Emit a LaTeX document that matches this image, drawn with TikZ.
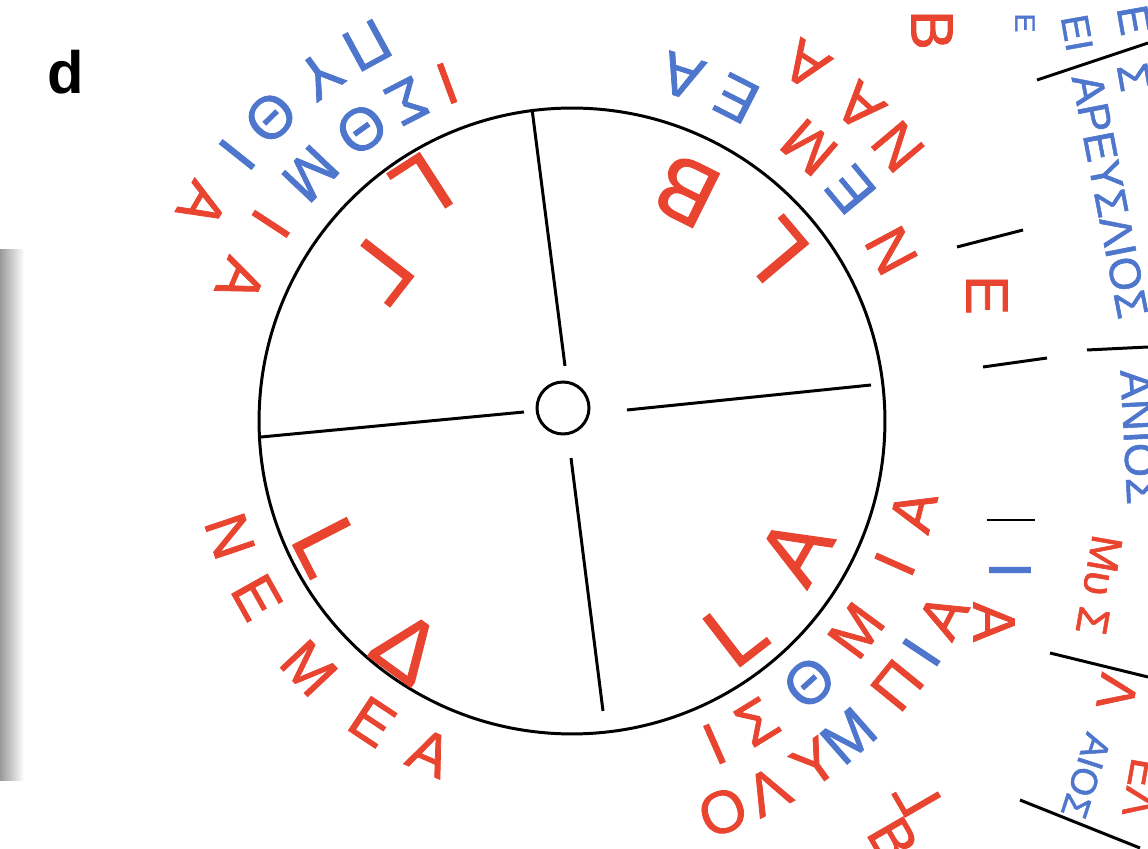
\documentclass[tikz,border=0pt]{standalone}
\usepackage{fontspec}
\setmainfont{Liberation Sans}
\newfontfamily\handfont{Liberation Sans}[FakeBold=1.3]
\usetikzlibrary{calc}
\definecolor{gkred}{RGB}{232,68,48}
\definecolor{gkblue}{RGB}{78,118,205}

\begin{document}
\begin{tikzpicture}[x=0.02cm, y=0.02cm]
  \tikzset{
    gk/.style={inner sep=0pt, font=\handfont\fontsize{34}{34}\selectfont},
    yr/.style={inner sep=0pt, text=gkred, font=\handfont\fontsize{50}{50}\selectfont},
    side/.style={inner sep=0pt, font=\handfont\fontsize{25}{25}\selectfont},
    rule/.style={line width=1.7pt}
  }
  \useasboundingbox (0,0) rectangle (1148,848);
  \clip (0,0) rectangle (1148,848);

  % photo edge
  \shade[left color=gray!80, right color=white] (0,68) rectangle (24,598);

  \node[font=\bfseries\fontsize{34}{34}\selectfont] (label) at (66,776) {d};

  % dial and hub
  \node[draw, circle, rule, minimum size=12.52cm, inner sep=0pt] (dial) at (572,427) {};
  \node[draw, circle, rule, minimum size=1.04cm, inner sep=0pt] (hub) at (563,440) {};

  % spokes
  \coordinate (sp-n1) at (532,739); \coordinate (sp-n2) at (565,482);
  \coordinate (sp-s1) at (571,390); \coordinate (sp-s2) at (603,137);
  \coordinate (sp-w1) at (261,411); \coordinate (sp-w2) at (524,436);
  \coordinate (sp-e1) at (627,438); \coordinate (sp-e2) at (871,463);
  \draw[rule] (sp-n1) -- (sp-n2);
  \draw[rule] (sp-s1) -- (sp-s2);
  \draw[rule] (sp-w1) -- (sp-w2);
  \draw[rule] (sp-e1) -- (sp-e2);

  % year labels inside the dial
  \foreach \ch/\a/\r [count=\i] in {L/40.2/265, Β/63.6/257, L/122.8/278, Γ/142.1/244,
                                    L/207.2/275, Δ/233.9/280, L/307.7/267, Α/330/258}
    \node[yr, rotate=\a+90] (yr-\i) at ($(dial.center)+(\a:\r)$) {\ch};

  % outer ring
  \foreach \ch/\a/\col [count=\i] in {Π/118.6/gkblue, Υ/126.1/gkblue, Θ/134.8/gkblue,
                                      Ι/141.5/gkblue, Α/149.7/gkred}
    \node[gk, text=\col, rotate=\a+90] (pyth-\i) at ($(dial.center)+(\a:428)$) {\ch};
  \foreach \ch/\a [count=\i] in {Ν/40.1, Α/47.5, Α/56.7}
    \node[gk, text=gkred, rotate=\a+90] (naa-\i) at ($(dial.center)+(\a:426)$) {\ch};
  \foreach \ch/\a/\col [count=\i] in {Ο/291.1/gkred, Λ/297.9/gkred, Υ/305.4/gkred,
                                      Μ/311.3/gkblue, Π/320.9/gkred, Ι/326.5/gkblue, Α/332.3/gkred}
    \node[gk, text=\col, rotate=\a+90] (olym-\i) at ($(dial.center)+(\a:419)$) {\ch};

  % inner ring
  \foreach \ch/\a/\col [count=\i] in {Ι/110.3/gkred, Σ/117.3/gkblue, Θ/125.8/gkblue,
                                      Μ/136.6/gkblue, Ι/146.8/gkred, Α/157/gkred}
    \node[gk, text=\col, rotate=\a+90] (isthA-\i) at ($(dial.center)+(\a:360)$) {\ch};
  \foreach \ch/\a/\col [count=\i] in {Ν/28.1/gkred, Ε/39.7/gkblue, Μ/49.1/gkred,
                                      Ε/63/gkblue, Α/72.3/gkblue}
    \node[gk, text=\col, rotate=\a+90] (nemA-\i) at ($(dial.center)+(\a:362)$) {\ch};
  \foreach \ch/\a [count=\i] in {Ν/198.6, Ε/209.2, Μ/223.2, Ε/236.4, Α/246.8}
    \node[gk, text=gkred, rotate=\a+90] (nemB-\i) at ($(dial.center)+(\a:361)$) {\ch};
  \foreach \ch/\a/\col [count=\i] in {Ι/293.8/gkred, Σ/301.6/gkred, Θ/312.2/gkblue,
                                      Μ/323.6/gkred, Ι/336.1/gkred, Α/345.2/gkred}
    \node[gk, text=\col, rotate=\a+90] (isthB-\i) at ($(dial.center)+(\a:353)$) {\ch};

  % next dial, right edge
  \coordinate (cell-a1) at (1037,768); \coordinate (cell-a2) at (1148,805);
  \coordinate (cell-b1) at (1087,498); \coordinate (cell-b2) at (1148,501);
  \coordinate (cell-c1) at (1050,195); \coordinate (cell-c2) at (1148,171);
  \coordinate (cell-d1) at (1020,48);  \coordinate (cell-d2) at (1140,0);
  \coordinate (tick-a1) at (957,601);  \coordinate (tick-a2) at (1023,618);
  \coordinate (tick-b1) at (983,481);  \coordinate (tick-b2) at (1047,490);
  \coordinate (tick-c1) at (987,328);  \coordinate (tick-c2) at (1035,328);
  \foreach \p in {cell-a, cell-b, cell-c, cell-d, tick-a, tick-b, tick-c}
    \draw[rule] (\p1) -- (\p2);

  \node[gk, text=gkred, rotate=-90] (num-b) at (932,818) {Β};
  \node[gk, text=gkred, rotate=-90] (num-e) at (987,553) {Ε};
  \node[gk, text=gkblue, rotate=-90] (num-i) at (1010,278) {Ι};
  \node[gk, text=gkred, rotate=-90] (num-a) at (994,226) {Α};
  \node[gk, text=gkred, rotate=120] (num-g) at (917,51) {Γ};
  \node[gk, text=gkred, rotate=-60] (num-bb) at (893,8) {Β};

  \node[side, text=gkblue, rotate=-90, font=\handfont\fontsize{16}{16}\selectfont] (mon-a) at (1025,825) {Ε};
  \node[side, text=gkblue, rotate=-80, font=\handfont\fontsize{22}{22}\selectfont] (mon-b) at (1077,815) {ΕΙ};
  \node[side, text=gkblue, rotate=-80] (mon-c) at (1134,828) {Ε};
  \node[side, text=gkblue, rotate=-80] (mon-d) at (1134,771) {Σ};
  \node[side, text=gkblue, rotate=-79] (mon-e) at (1110,652) {ΑΡΕΥΣΛΙΟΣ};
  \node[side, text=gkblue, rotate=-87] (mon-f) at (1139,411) {ΑΝΙΟΣ};
  \node[side, text=gkred, rotate=-100] (mon-g) at (1099,263) {Μυ Σ};
  \node[side, text=gkred, rotate=-100, font=\handfont\fontsize{30}{30}\selectfont] (mon-h) at (1117,156) {Λ};
  \node[side, text=gkblue, rotate=-108, font=\handfont\fontsize{21}{21}\selectfont] (mon-i) at (1086,72) {ΑΙΟΣ};
  \node[side, text=gkred, rotate=-100] (mon-j) at (1142,60) {ΕΛ};
\end{tikzpicture}
\end{document}
